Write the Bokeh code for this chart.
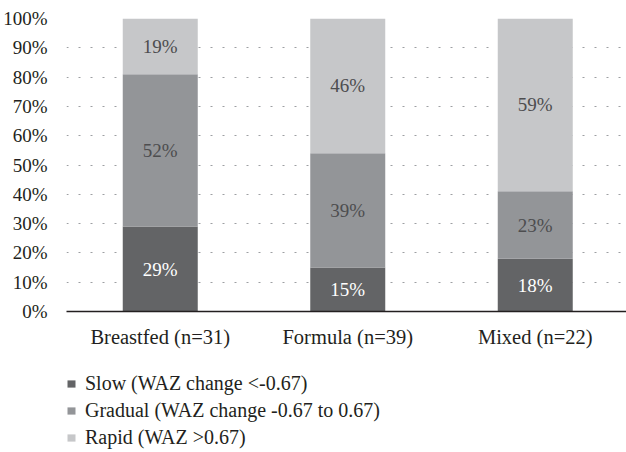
from bokeh.plotting import figure
from bokeh.layouts import column
from bokeh.models import (Range1d, FixedTicker, ColumnDataSource, Legend, LegendItem,
                          LabelSet, PrintfTickFormatter)
from bokeh.core.properties import value
from bokeh.embed import file_html
from bokeh.resources import INLINE

# ---- data ----
categories = ["Breastfed (n=31)", "Formula (n=39)", "Mixed (n=22)"]
slow = [29, 15, 18]
gradual = [52, 39, 23]
rapid = [19, 46, 59]
series_keys = ["slow", "gradual", "rapid"]
series_names = ["Slow (WAZ change <-0.67)",
                "Gradual (WAZ change -0.67 to 0.67)",
                "Rapid (WAZ >0.67)"]
y_ticks = [0, 10, 20, 30, 40, 50, 60, 70, 80, 90, 100]

# ---- styling ----
FONT = "Liberation Serif"
colors = ["#636466", "#939598", "#c6c7c9"]
label_colors = ["#ffffff", "#4d4d4f", "#4d4d4f"]
text_color = "#231f20"

x_pos = [i + 0.5 for i in range(len(categories))]
series = [slow, gradual, rapid]

src = ColumnDataSource(data=dict(x=x_pos, slow=slow, gradual=gradual, rapid=rapid))

p = figure(width=626, height=350, output_backend="svg", toolbar_location=None,
           x_range=Range1d(0, 560 / 187.5), y_range=Range1d(0, 100),
           min_border_left=66, min_border_right=0, min_border_top=18,
           min_border_bottom=37)
p.outline_line_color = None
p.background_fill_color = "white"
p.border_fill_color = "white"

renderers = p.vbar_stack(series_keys, x="x", width=0.4, color=colors,
                         line_color=None, source=src)

# bar value labels
lx, ly, lt, lc = [], [], [], []
for ci in range(len(categories)):
    bottom = 0
    for si, vals in enumerate(series):
        v = vals[ci]
        lx.append(x_pos[ci])
        ly.append(bottom + v / 2)
        lt.append(f"{v}%")
        lc.append(label_colors[si])
        bottom += v
lab_src = ColumnDataSource(data=dict(x=lx, y=ly, t=lt, c=lc))
labels = LabelSet(x="x", y="y", text="t", source=lab_src, text_color="c",
                  text_align="center", text_baseline="middle",
                  text_font=value(FONT), text_font_size="19px")
p.add_layout(labels)

# axes
p.xaxis.ticker = FixedTicker(ticks=x_pos)
p.xaxis.major_label_overrides = {x: c for x, c in zip(x_pos, categories)}
p.xaxis.major_tick_line_color = None
p.xaxis.minor_tick_line_color = None
p.xaxis.axis_line_color = text_color
p.xaxis.axis_line_width = 1.3
p.xaxis.major_label_text_font = FONT
p.xaxis.major_label_text_font_size = "20.5px"
p.xaxis.major_label_text_color = text_color
p.xaxis.major_label_standoff = 8

p.yaxis.ticker = FixedTicker(ticks=y_ticks)
p.yaxis.formatter = PrintfTickFormatter(format="%d%%")
p.yaxis.axis_line_color = None
p.yaxis.major_tick_line_color = None
p.yaxis.minor_tick_line_color = None
p.yaxis.major_label_text_font = FONT
p.yaxis.major_label_text_font_size = "19px"
p.yaxis.major_label_text_color = text_color
p.yaxis.major_label_standoff = 13

p.xgrid.visible = False
p.ygrid.ticker = FixedTicker(ticks=y_ticks)
p.ygrid.grid_line_color = "#9d9fa2"
p.ygrid.grid_line_dash = "2 10"
p.ygrid.grid_line_width = 1.2

# ---- legend panel (second figure below the chart) ----
p2 = figure(width=626, height=102, output_backend="svg", toolbar_location=None,
            x_axis_type=None, y_axis_type=None,
            x_range=Range1d(0, 1), y_range=Range1d(0, 1),
            min_border_left=66, min_border_right=0, min_border_top=0, min_border_bottom=0)
p2.outline_line_color = None
p2.background_fill_color = "white"
p2.border_fill_color = "white"
legend_renderers = p2.vbar_stack(series_keys, x="x", width=0.4, color=colors,
                                 line_color=None, source=src)
for r in legend_renderers:
    r.visible = False

legend = Legend(items=[LegendItem(label=n, renderers=[r]) for n, r in zip(series_names, legend_renderers)],
                location=(0, 3), orientation="vertical",
                padding=0, margin=0, spacing=4,
                glyph_width=10, glyph_height=9, label_standoff=9, label_height=20,
                label_text_font=FONT, label_text_font_size="20px",
                label_text_color=text_color,
                inactive_fill_alpha=0,
                border_line_color=None, background_fill_alpha=0)
p2.add_layout(legend)

layout = column(p, p2, spacing=0)
open("out.html", "w").write(file_html(layout, INLINE))
